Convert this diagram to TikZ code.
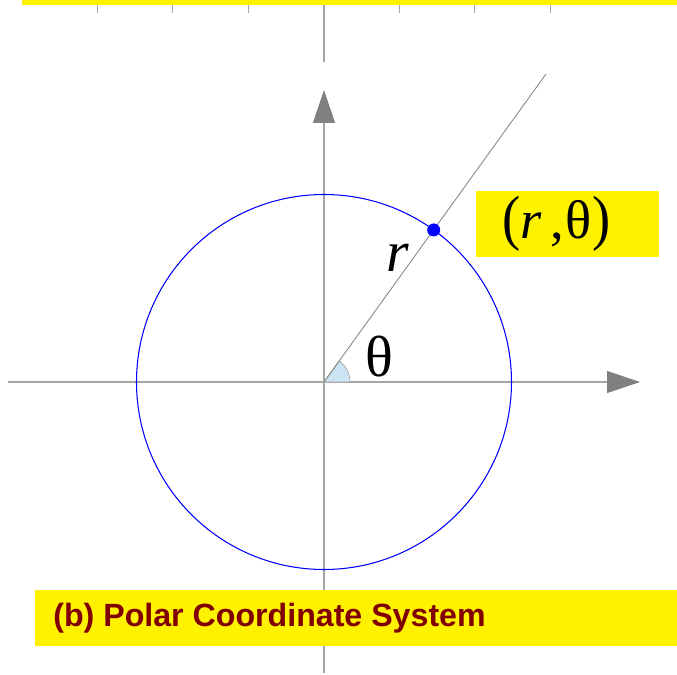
\documentclass[tikz,border=0pt]{standalone}
\usepackage{fontspec}
\setmainfont{Liberation Serif}
\newfontfamily\capfont{Liberation Sans}
\usetikzlibrary{arrows.meta, calc}
\definecolor{axisc}{RGB}{165,165,165}
\definecolor{tipc}{RGB}{128,128,128}
\definecolor{rayc}{RGB}{135,135,135}
\definecolor{wedgec}{RGB}{205,228,245}
\definecolor{capred}{RGB}{128,0,0}

\begin{document}
\begin{tikzpicture}[
  x=0.02cm, y=0.02cm,
  axis/.style={draw=axisc, line width=0.6pt},
  axarr/.style={axis, -{Triangle[length=6.6mm, width=4.4mm, color=tipc, fill=tipc]}},
  tickm/.style={draw=axisc, line width=0.5pt},
  band/.style={fill=yellow, draw=none, inner sep=0pt},
  sym/.style={font=\fontsize{33}{36}\selectfont, inner sep=0pt},
  caption/.style={font=\capfont\bfseries\fontsize{18.3}{20}\selectfont,
                  text=capred, inner sep=0pt},
]
\useasboundingbox (0,0) rectangle (677,674);

% ── points ───────────────────────────────────────────────────────────────────
\coordinate (O) at (324,292);
\coordinate (xbeg) at (8,292);
\coordinate (xend) at (640,292);
\coordinate (ybeg) at (324,1);
\coordinate (yend) at (324,584);
\coordinate (ray) at (546,600);
\coordinate (P) at ($(O)+(54.2:187.5)$);

% ── top strip (previous panel) ───────────────────────────────────────────────
\fill[yellow] (22,669) rectangle (677,674);
\draw[axis] (324,669) -- (324,612);
\foreach \x in {97,172,248,399,474,550}
  \draw[tickm] (\x,669) -- (\x,661);

% ── axes ─────────────────────────────────────────────────────────────────────
\draw[axarr] (xbeg) -- (xend);
\draw[axarr] (ybeg) -- (yend);

% ── circle, ray and angle ────────────────────────────────────────────────────
\filldraw[fill=wedgec, draw=axisc, line width=0.4pt]
  (O) -- ++(26,0) arc[start angle=0, end angle=54.2, radius=26] -- cycle;
\draw[blue, line width=0.6pt] (O) circle[radius=187.5];
\draw[rayc, line width=0.5pt] (O) -- (ray);
\fill[blue] (P) circle[radius=6.5];

% ── labels ───────────────────────────────────────────────────────────────────
\node[sym] (th) at (379,317) {θ};
\node[sym, font=\fontsize{33}{36}\selectfont\itshape] (rl) at (398,416) {r};

\node[band, minimum width=3.66cm, minimum height=1.32cm] (ptbox) at (567.5,450) {};
\node[sym, font=\fontsize{31}{34}\selectfont, anchor=west] (ptlbl) at (502,450)
  {\scalebox{1}[1.12]{(}\textit{r}\kern5pt,\kern1ptθ\scalebox{1}[1.12]{)}};

% ── caption ──────────────────────────────────────────────────────────────────
\node[band, anchor=south west, minimum width=12.84cm, minimum height=1.12cm]
  (capbar) at (35,28) {};
\node[caption, anchor=west] (cap) at (53,56) {(b) Polar Coordinate System};

\end{tikzpicture}
\end{document}
